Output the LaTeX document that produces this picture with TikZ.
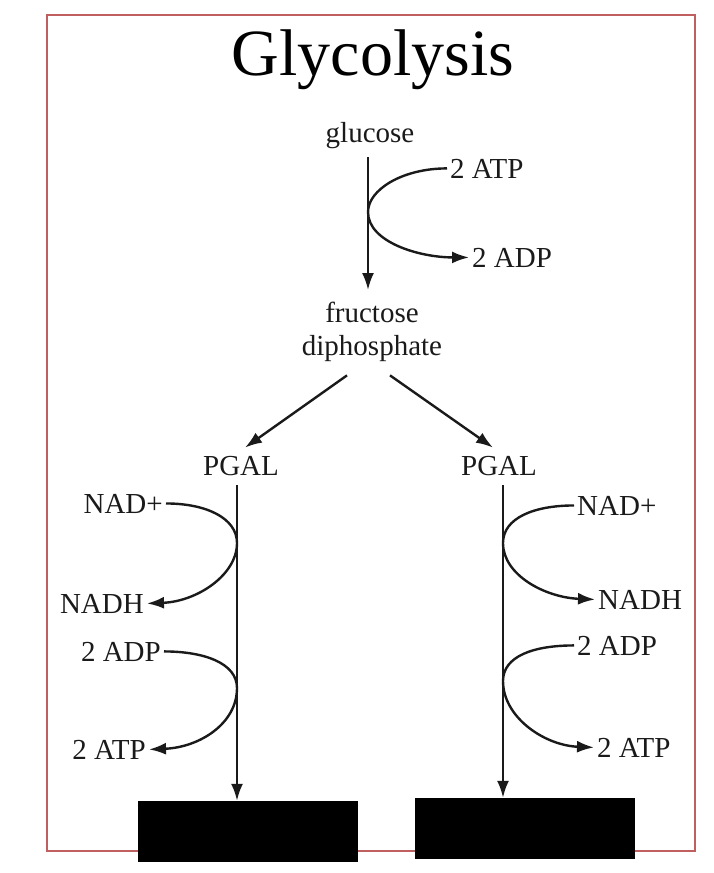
\documentclass[tikz,border=0pt]{standalone}
\usepackage{fontspec}
\setmainfont{Liberation Serif}
\usetikzlibrary{arrows.meta,calc}
\definecolor{frameRed}{HTML}{BF5F5F}
\definecolor{ink}{HTML}{1A1A1A}
\begin{document}
\begin{tikzpicture}[x=1pt,y=-1pt,
  lbl/.style={inner xsep=3pt, inner ysep=0pt, font=\fontsize{29}{33}\selectfont, text=ink},
  ttl/.style={inner sep=0pt, font=\fontsize{66}{70}\selectfont, text=black},
  flow/.style={draw=ink, line width=2.4pt, -{Latex[length=17pt,width=12pt]}},
  blockbox/.style={fill=black, draw=none, minimum width=220pt, minimum height=61pt, inner sep=0pt}]
\useasboundingbox (0,0) rectangle (714,873);
% frame
\draw[draw=frameRed, line width=2pt] (47,14.5) rectangle (695,851);
% title
\node[ttl, anchor=base] (title) at (373,75) {Glycolysis};
% top part
\node[lbl, anchor=base] (glucose) at (370,142) {glucose};
\node[lbl, anchor=base west] (atpT) at (447,178) {2 ATP};
\node[lbl, anchor=base west] (adpT) at (469,267) {2 ADP};
\node[lbl, anchor=base, align=center] (fd) at (372,355) {fructose\\diphosphate};
\coordinate (gT) at (368,212);
\draw[flow, shorten <=9pt] (glucose.south -| gT) -- (gT |- 0,290);
\draw[flow] (atpT.west) .. controls +(-45,0) and +(0,-22) .. (gT)
            .. controls +(0,30) and +(-50,0) .. (adpT.west);
% PGAL
\node[lbl, anchor=base] (pgalL) at (241,475) {PGAL};
\node[lbl, anchor=base] (pgalR) at (499,475) {PGAL};
\draw[flow] ($(fd.south)+(-25,14)$) -- ($(pgalL.north)+(4,-8)$);
\draw[flow] ($(fd.south)+(18,14)$) -- ($(pgalR.north)+(-6,-8)$);
% result boxes
\node[blockbox] (boxL) at (248,831.5) {};
\node[blockbox] (boxR) at (525,828.5) {};
% vertical lines
\coordinate (lL) at (237,485);
\coordinate (lR) at (503,485);
\draw[flow] (lL) -- (lL |- boxL.north);
\draw[flow] (lR) -- (lR |- boxR.north);
% left side labels
\node[lbl, anchor=base east] (nadL) at (166,513) {NAD+};
\node[lbl, anchor=base east] (nadhL) at (147,613) {NADH};
\node[lbl, anchor=base east] (adpL) at (164,661) {2 ADP};
\node[lbl, anchor=base east] (atpL) at (149,759) {2 ATP};
\coordinate (tL1) at (237,543);
\coordinate (tL2) at (237,688);
\draw[flow] (nadL.east) .. controls +(40,0) and +(0,-25) .. (tL1)
            .. controls +(0,32) and +(50,-2) .. (nadhL.east);
\draw[flow] (adpL.east) .. controls +(40,0) and +(0,-25) .. (tL2)
            .. controls +(0,36) and +(50,-2) .. (atpL.east);
% right side labels
\node[lbl, anchor=base west] (nadR) at (574,515) {NAD+};
\node[lbl, anchor=base west] (nadhR) at (595,609) {NADH};
\node[lbl, anchor=base west] (adpR) at (574,655) {2 ADP};
\node[lbl, anchor=base west] (atpR) at (594,757) {2 ATP};
\coordinate (tR1) at (503,543);
\coordinate (tR2) at (503,681);
\draw[flow] (nadR.west) .. controls +(-40,0) and +(0,-25) .. (tR1)
            .. controls +(0,32) and +(-50,-2) .. (nadhR.west);
\draw[flow] (adpR.west) .. controls +(-40,0) and +(0,-25) .. (tR2)
            .. controls +(0,36) and +(-50,-2) .. (atpR.west);
\end{tikzpicture}
\end{document}
